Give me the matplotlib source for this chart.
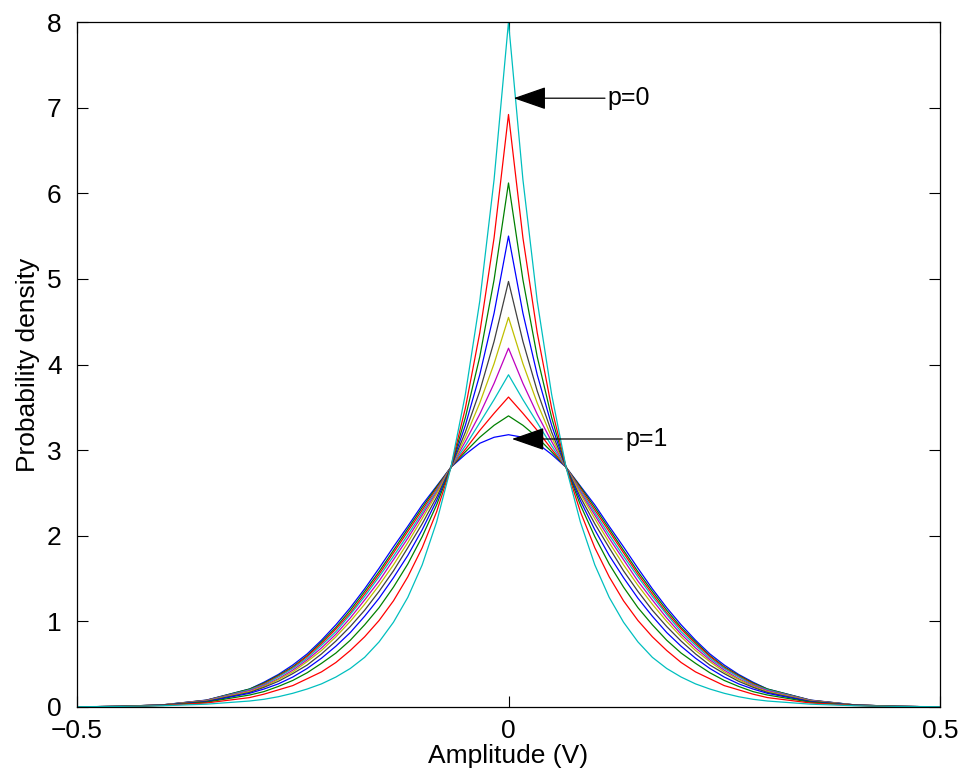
import numpy as np
import matplotlib.pyplot as plt

plt.rcParams['font.family'] = ['Liberation Sans', 'DejaVu Sans']

# amplitude grid (one side, curves are symmetric about 0)
x_half = [0, 0.0167, 0.0333, 0.05, 0.0667, 0.0833, 0.1, 0.1167, 0.1333, 0.15,
          0.1667, 0.1833, 0.2, 0.2167, 0.2333, 0.25, 0.2667, 0.2833, 0.3,
          0.35, 0.4, 0.45, 0.5]

# probability density, p = 1 ... p = 0
p10 = [3.18, 3.15, 3.08, 2.95, 2.80, 2.58, 2.36, 2.11, 1.87, 1.62, 1.38, 1.16, 0.96, 0.78, 0.62, 0.49, 0.38, 0.29, 0.21, 0.081, 0.026, 0.007, 0.002]
p09 = [3.40, 3.29, 3.15, 2.98, 2.80, 2.57, 2.33, 2.08, 1.83, 1.58, 1.35, 1.13, 0.93, 0.76, 0.60, 0.47, 0.37, 0.28, 0.21, 0.079, 0.026, 0.007, 0.002]
p08 = [3.62, 3.43, 3.23, 3.01, 2.80, 2.55, 2.30, 2.05, 1.80, 1.55, 1.32, 1.10, 0.91, 0.74, 0.59, 0.46, 0.36, 0.27, 0.20, 0.077, 0.025, 0.007, 0.002]
p07 = [3.88, 3.59, 3.32, 3.05, 2.80, 2.53, 2.27, 2.01, 1.76, 1.52, 1.29, 1.08, 0.88, 0.72, 0.57, 0.45, 0.35, 0.26, 0.20, 0.075, 0.025, 0.007, 0.002]
p06 = [4.19, 3.78, 3.42, 3.10, 2.80, 2.51, 2.24, 1.97, 1.72, 1.47, 1.25, 1.04, 0.85, 0.69, 0.55, 0.43, 0.33, 0.25, 0.19, 0.073, 0.024, 0.007, 0.002]
p05 = [4.55, 4.01, 3.55, 3.15, 2.80, 2.49, 2.20, 1.92, 1.66, 1.42, 1.20, 1.00, 0.82, 0.66, 0.53, 0.41, 0.32, 0.24, 0.18, 0.070, 0.023, 0.007, 0.002]
p04 = [4.97, 4.27, 3.69, 3.21, 2.80, 2.45, 2.14, 1.86, 1.59, 1.35, 1.13, 0.94, 0.77, 0.62, 0.49, 0.39, 0.30, 0.23, 0.17, 0.066, 0.023, 0.007, 0.002]
p03 = [5.50, 4.60, 3.88, 3.29, 2.80, 2.41, 2.07, 1.77, 1.51, 1.27, 1.06, 0.87, 0.71, 0.57, 0.45, 0.35, 0.27, 0.21, 0.16, 0.061, 0.021, 0.007, 0.002]
p02 = [6.12, 4.99, 4.09, 3.38, 2.80, 2.36, 1.99, 1.67, 1.40, 1.16, 0.96, 0.78, 0.63, 0.51, 0.40, 0.31, 0.24, 0.18, 0.14, 0.056, 0.020, 0.007, 0.002]
p01 = [6.92, 5.48, 4.37, 3.49, 2.80, 2.28, 1.86, 1.52, 1.24, 1.01, 0.82, 0.66, 0.52, 0.41, 0.33, 0.25, 0.20, 0.15, 0.11, 0.047, 0.018, 0.007, 0.002]
p00 = [8.00, 6.16, 4.74, 3.65, 2.80, 2.16, 1.66, 1.28, 0.99, 0.76, 0.58, 0.45, 0.35, 0.27, 0.21, 0.16, 0.12, 0.09, 0.07, 0.033, 0.015, 0.007, 0.003]

curves = [p10, p09, p08, p07, p06, p05, p04, p03, p02, p01, p00]

# old matlab color order
colors = ['#0000ff', '#008000', '#ff0000', '#00bfbf', '#bf00bf', '#bfbf00',
          '#404040', '#0000ff', '#008000', '#ff0000', '#00bfbf']

xticks = [-0.5, 0, 0.5]
xtick_labels = ['\u22120.5', '0', '0.5']
yticks = [0, 1, 2, 3, 4, 5, 6, 7, 8]

xh = np.array(x_half)
x = np.concatenate([-xh[:0:-1], xh])

fig = plt.figure(figsize=(9.65, 7.79), dpi=100)
ax = fig.add_axes([77 / 965, 72 / 779, 863 / 965, 685 / 779])

for yh, c in zip(curves, colors):
    yh = np.array(yh)
    y = np.concatenate([yh[:0:-1], yh])
    ax.plot(x, y, color=c, lw=0.9)

ax.set_xlim(-0.5, 0.5)
ax.set_ylim(0, 8)
ax.set_xticks(xticks)
ax.set_xticklabels(xtick_labels)
ax.set_yticks(yticks)

ax.tick_params(direction='in', length=8, width=0.8, top=True, right=True,
               labelsize=19, colors='black')
ax.tick_params(axis='y', pad=11)
ax.tick_params(axis='x', pad=9)
for s in ax.spines.values():
    s.set_linewidth(0.9)

ax.set_xlabel('Amplitude (V)', fontsize=19, labelpad=0)
ax.set_ylabel('Probability density', fontsize=19, labelpad=5)

arrow = dict(arrowstyle='-|>,head_length=1.15,head_width=0.4', color='k',
             lw=0.9, shrinkA=0, shrinkB=0)
ax.annotate('p=0', xy=(0.006, 7.11), xytext=(0.115, 7.11), fontsize=18,
            ha='left', va='center', arrowprops=arrow)
ax.annotate('p=1', xy=(0.004, 3.13), xytext=(0.135, 3.13), fontsize=18,
            ha='left', va='center', arrowprops=arrow)

fig.savefig('out.png', dpi=100)
